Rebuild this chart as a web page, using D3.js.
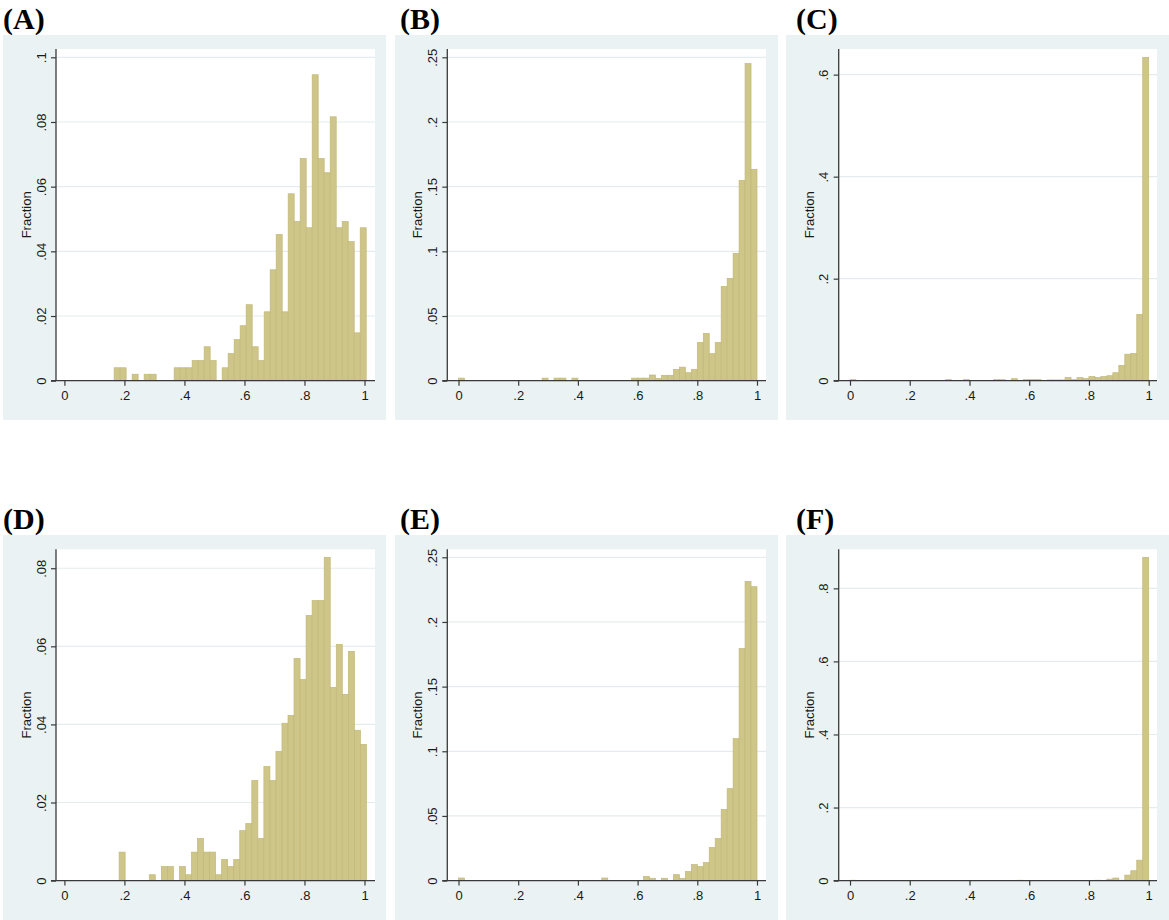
<!DOCTYPE html>
<html>
<head>
<meta charset="utf-8">
<script src="https://cdn.jsdelivr.net/npm/d3@7"></script>
<style>
  html, body { margin: 0; padding: 0; background: #ffffff; }
  svg { display: block; }
</style>
</head>
<body>
<svg id="chart" width="1169" height="920"></svg>
<script>
// ---------------- DATA ----------------
const panelLabels = ["(A)", "(B)", "(C)", "(D)", "(E)", "(F)"];
const yAxisTitle = "Fraction";
const xTickValues = [0, 0.2, 0.4, 0.6, 0.8, 1];

// Histogram bin starts and widths (x units)
const binStartA = 0.1657, binWidthA = 0.02;
const binStartB = 0, binWidthB = 0.02;
const binStartC = 0, binWidthC = 0.02;
const binStartD = 0.1823, binWidthD = 0.0201;
const binStartE = 0, binWidthE = 0.02;
const binStartF = 0, binWidthF = 0.02;

// Bar heights (fractions)
const heightsA = [
  0.0040, 0.0040, 0, 0.0020, 0, 0.0020, 0.0020, 0, 0, 0,
  0.0040, 0.0040, 0.0040, 0.0062, 0.0062, 0.0105, 0.0062, 0, 0.0040, 0.0084,
  0.0127, 0.0170, 0.0235, 0.0105, 0.0062, 0.0213, 0.0343, 0.0452, 0.0213, 0.0578,
  0.0492, 0.0687, 0.0473, 0.0946, 0.0687, 0.0643, 0.0816, 0.0473, 0.0492, 0.0430,
  0.0148, 0.0473
];
const heightsB = [
  0.002, 0, 0, 0, 0, 0, 0, 0, 0, 0,
  0, 0, 0, 0, 0.002, 0, 0.002, 0.002, 0, 0.002,
  0, 0, 0, 0, 0, 0, 0, 0, 0, 0.002,
  0.002, 0.002, 0.0044, 0.0018, 0.0042, 0.0042, 0.0088, 0.0105, 0.0062, 0.0088,
  0.0296, 0.0366, 0.0209, 0.0296, 0.0729, 0.0791, 0.0985, 0.1549, 0.2451, 0.1634
];
const heightsC = [
  0.002, 0, 0, 0, 0, 0, 0, 0, 0, 0,
  0, 0, 0, 0, 0, 0, 0.002, 0, 0, 0.002,
  0, 0, 0, 0, 0.002, 0.002, 0, 0.004, 0, 0.002,
  0.002, 0.002, 0, 0.0015, 0.0015, 0.0015, 0.006, 0.002, 0.006, 0.004,
  0.008, 0.006, 0.008, 0.0098, 0.0157, 0.0300, 0.0520, 0.0535, 0.1300, 0.6340
];
const heightsD = [
  0.0073, 0, 0, 0, 0, 0.0015, 0, 0.0036, 0.0036, 0,
  0.0036, 0.0015, 0.0073, 0.0108, 0.0073, 0.0073, 0.0015, 0.0054, 0.0036, 0.0054,
  0.0128, 0.0146, 0.0256, 0.0108, 0.0292, 0.0256, 0.0331, 0.0403, 0.0423, 0.0569,
  0.0515, 0.0679, 0.0717, 0.0717, 0.0828, 0.0495, 0.0605, 0.0477, 0.0587, 0.0385,
  0.0349
];
const heightsE = [
  0.002, 0, 0, 0, 0, 0, 0, 0, 0, 0,
  0, 0, 0, 0, 0, 0, 0, 0, 0, 0,
  0, 0, 0, 0, 0.002, 0, 0, 0, 0, 0,
  0, 0.0032, 0.0018, 0, 0.0018, 0, 0.0046, 0.0018, 0.0070, 0.0124,
  0.0108, 0.0139, 0.0255, 0.0325, 0.0549, 0.0711, 0.1098, 0.1794, 0.2314, 0.2273
];
const heightsF = [
  0.001, 0, 0, 0, 0, 0, 0, 0, 0, 0,
  0, 0, 0, 0, 0, 0, 0, 0, 0, 0,
  0, 0, 0, 0, 0, 0, 0, 0, 0.001, 0,
  0, 0, 0, 0, 0, 0, 0, 0, 0, 0,
  0, 0.001, 0, 0.004, 0.007, 0.001, 0.015, 0.027, 0.056, 0.885
];

// Y tick values per panel
const yTicksA = [0, 0.02, 0.04, 0.06, 0.08, 0.1];
const yTicksB = [0, 0.05, 0.1, 0.15, 0.2, 0.25];
const yTicksC = [0, 0.2, 0.4, 0.6];
const yTicksD = [0, 0.02, 0.04, 0.06, 0.08];
const yTicksE = [0, 0.05, 0.1, 0.15, 0.2, 0.25];
const yTicksF = [0, 0.2, 0.4, 0.6, 0.8];

// ---------------- LAYOUT / STYLE ----------------
const BG = "#eaf2f3";
const GRID = "#e4eced";
const BAR_FILL = "#cec588";
const BAR_STROKE = "#c2b877";
const AXIS = "#3a3a3a";
const TEXT = "#1a1a1a";
const SANS = "'Liberation Sans', Arial, Helvetica, sans-serif";
const SERIF = "'Liberation Serif', 'Times New Roman', serif";

// column layouts: background left, y-axis x, plot right, x pixel of 0 and 1, title x
const cols = [
  { bgX: 3,   bgW: 383, axisX: 56,    right: 375,  x0: 64.4,  x1: 364.5, titleX: 3 },
  { bgX: 395, bgW: 383, axisX: 447.3, right: 766,  x0: 458.5, x1: 757,   titleX: 400 },
  { bgX: 786, bgW: 383, axisX: 838.7, right: 1157, x0: 850,   x1: 1148.7, titleX: 796 }
];
const rows = [
  { bgY: 35,  bgH: 385, top: 49,    base: 380.7, peak: 57.3, titleY: 28.5 },
  { bgY: 535, bgH: 385, top: 549.3, base: 880.6, peak: 557.3, titleY: 528.5 }
];

const panels = [
  { label: panelLabels[0], start: binStartA, width: binWidthA, heights: heightsA, yTicks: yTicksA, col: 0, row: 0 },
  { label: panelLabels[1], start: binStartB, width: binWidthB, heights: heightsB, yTicks: yTicksB, col: 1, row: 0 },
  { label: panelLabels[2], start: binStartC, width: binWidthC, heights: heightsC, yTicks: yTicksC, col: 2, row: 0 },
  { label: panelLabels[3], start: binStartD, width: binWidthD, heights: heightsD, yTicks: yTicksD, col: 0, row: 1 },
  { label: panelLabels[4], start: binStartE, width: binWidthE, heights: heightsE, yTicks: yTicksE, col: 1, row: 1 },
  { label: panelLabels[5], start: binStartF, width: binWidthF, heights: heightsF, yTicks: yTicksF, col: 2, row: 1 }
];

// Stata-like number format: 0.2 -> ".2", 1 -> "1", 0 -> "0"
function stataFmt(v) {
  const s = d3.format("~g")(+v.toFixed(4));
  return s.replace(/^0\./, ".");
}

const svg = d3.select("#chart");

panels.forEach(p => {
  const c = cols[p.col], r = rows[p.row];
  const g = svg.append("g");

  // background region
  g.append("rect")
    .attr("x", c.bgX).attr("y", r.bgY)
    .attr("width", c.bgW).attr("height", r.bgH)
    .attr("fill", BG);

  // plot region
  g.append("rect")
    .attr("x", c.axisX).attr("y", r.top)
    .attr("width", c.right - c.axisX).attr("height", r.base - r.top)
    .attr("fill", "#ffffff");

  const yMax = Math.max(d3.max(p.heights), d3.max(p.yTicks));
  const x = d3.scaleLinear().domain([0, 1]).range([c.x0, c.x1]);
  const y = d3.scaleLinear().domain([0, yMax]).range([r.base, r.peak]);

  // grid lines
  g.append("g").selectAll("line")
    .data(p.yTicks.filter(t => t > 0))
    .join("line")
    .attr("x1", c.axisX).attr("x2", c.right)
    .attr("y1", d => y(d)).attr("y2", d => y(d))
    .attr("stroke", GRID).attr("stroke-width", 1.2);

  // bars
  const bins = p.heights.map((h, i) => ({ x0: p.start + i * p.width, x1: p.start + (i + 1) * p.width, h }));
  g.append("g").selectAll("rect")
    .data(bins.filter(b => b.h > 0))
    .join("rect")
    .attr("x", d => x(d.x0))
    .attr("width", d => x(d.x1) - x(d.x0))
    .attr("y", d => y(d.h))
    .attr("height", d => y(0) - y(d.h))
    .attr("fill", BAR_FILL)
    .attr("stroke", BAR_STROKE)
    .attr("stroke-width", 0.7);

  // x axis
  const xAxis = d3.axisBottom(x).tickValues(xTickValues).tickSize(5).tickSizeOuter(0).tickFormat(stataFmt);
  const gx = g.append("g").attr("transform", `translate(0,${r.base})`).call(xAxis);
  gx.select(".domain").remove();
  gx.selectAll(".tick line").attr("stroke", AXIS).attr("stroke-width", 1.2);
  gx.selectAll(".tick text")
    .attr("fill", TEXT).attr("font-family", SANS).attr("font-size", 13)
    .attr("y", 19).attr("dy", 0);
  g.append("line")
    .attr("x1", c.axisX - 5).attr("x2", c.right)
    .attr("y1", r.base).attr("y2", r.base)
    .attr("stroke", AXIS).attr("stroke-width", 1.3);

  // y axis
  const yAxis = d3.axisLeft(y).tickValues(p.yTicks).tickSize(5).tickSizeOuter(0).tickFormat(stataFmt);
  const gy = g.append("g").attr("transform", `translate(${c.axisX},0)`).call(yAxis);
  gy.select(".domain").remove();
  gy.selectAll(".tick line").attr("stroke", AXIS).attr("stroke-width", 1.2);
  gy.selectAll(".tick text")
    .attr("fill", TEXT).attr("font-family", SANS).attr("font-size", 13)
    .attr("x", null).attr("dy", null)
    .attr("text-anchor", "middle")
    .attr("transform", "translate(-10.5,0) rotate(-90)");
  g.append("line")
    .attr("x1", c.axisX).attr("x2", c.axisX)
    .attr("y1", r.top).attr("y2", r.base)
    .attr("stroke", AXIS).attr("stroke-width", 1.3);

  // y axis title
  g.append("text")
    .attr("transform", `translate(${c.axisX - 25},${(r.top + r.base) / 2}) rotate(-90)`)
    .attr("text-anchor", "middle")
    .attr("font-family", SANS).attr("font-size", 13).attr("fill", TEXT)
    .text(yAxisTitle);

  // panel label
  svg.append("text")
    .attr("x", c.titleX).attr("y", r.titleY)
    .attr("font-family", SERIF).attr("font-weight", "bold").attr("font-size", 30)
    .attr("fill", "#000")
    .text(p.label);
});
</script>
</body>
</html>
